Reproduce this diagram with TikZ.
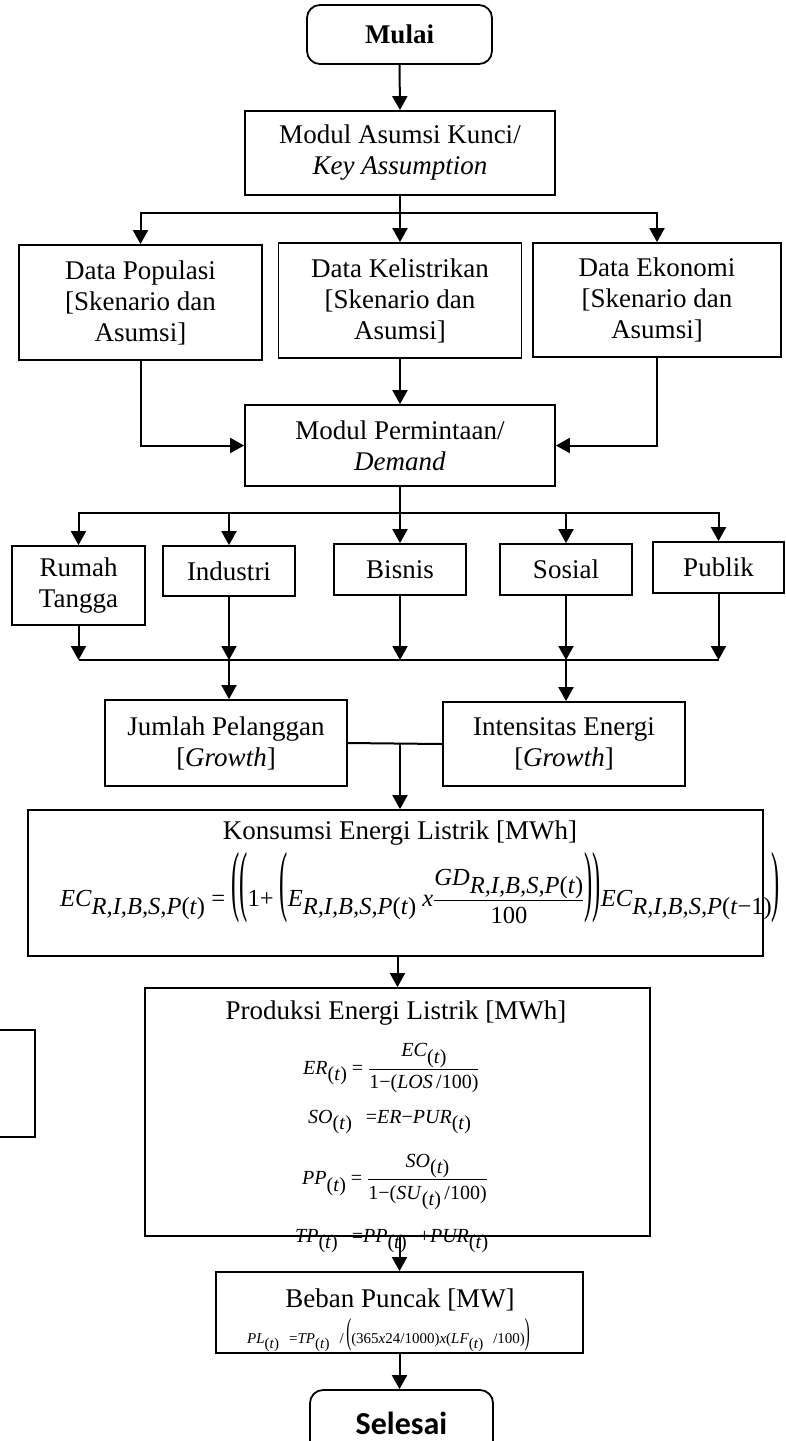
\documentclass[tikz,border=0pt]{standalone}
\usepackage{fontspec}
\usepackage{graphicx}
\setmainfont{Liberation Serif}
\newfontfamily\carlito{Carlito}
\usetikzlibrary{arrows.meta}
\newcommand\mi[1]{\textit{#1}}
\newcommand\lo[1]{\raisebox{-0.33em}{#1}}
\newcommand\bpL{\scalebox{1}[3.2]{(}}
\newcommand\bpR{\scalebox{1}[3.2]{)}}
\newcommand\spL{\scalebox{1}[2.4]{(}}
\newcommand\spR{\scalebox{1}[2.4]{)}}
\newcommand\subT{\lo{(\mi{t})}}
\newcommand\subR{\lo{\mi{R,I,B,S,P}(\mi{t})}}
\begin{document}
\begin{tikzpicture}[x=1pt,y=-1pt,
  box/.style={draw,line width=1.8pt,inner sep=0pt,align=center,font=\fontsize{27}{31}\selectfont},
  term/.style={box,rounded corners=13pt},
  arr/.style={line width=2pt,-{Triangle[width=15pt,length=14pt]}},
  ln/.style={line width=2pt},
  txt/.style={inner sep=0pt,font=\fontsize{27}{31}\selectfont},
  f20/.style={inner sep=0pt,font=\fontsize{20}{24}\selectfont},
  f15/.style={inner sep=0pt,font=\fontsize{15}{18}\selectfont}]
\useasboundingbox (0,0) rectangle (786,1441);
\clip (0,0) rectangle (786,1441);
% boxes
\node[term,minimum width=185,minimum height=59] (mul) at (399.5,34.5) {\bfseries Mulai};
\node[box,minimum width=310,minimum height=84] (asm) at (400,153) {Modul Asumsi Kunci/\\\textit{Key Assumption}};
\node[box,minimum width=243,minimum height=115] (pop) at (140.5,302.5) {Data Populasi\\{[}Skenario dan\\Asumsi{]}};
\node[box,minimum width=243,minimum height=115] (kel) at (400,300.5) {Data Kelistrikan\\{[}Skenario dan\\Asumsi{]}};
\node[box,minimum width=248,minimum height=114] (eko) at (657,300) {Data Ekonomi\\{[}Skenario dan\\Asumsi{]}};
\node[box,minimum width=310,minimum height=81] (per) at (400,445.5) {Modul Permintaan/\\\textit{Demand}};
\node[box,minimum width=133,minimum height=79] (rt) at (78.5,585.5) {Rumah\\Tangga};
\node[box,minimum width=132,minimum height=50] (ind) at (229,571) {Industri};
\node[box,minimum width=132,minimum height=51] (bis) at (400,569.5) {Bisnis};
\node[box,minimum width=132,minimum height=51] (sos) at (566,569.5) {Sosial};
\node[box,minimum width=131,minimum height=51] (pub) at (718.5,567.5) {Publik};
\node[box,minimum width=242,minimum height=86] (jum) at (226,743) {Jumlah Pelanggan\\{[}\textit{Growth}{]}};
\node[box,minimum width=242,minimum height=84] (int) at (564,744) {Intensitas Energi\\{[}\textit{Growth}{]}};
\node[box,minimum width=735,minimum height=146] (kon) at (395.5,883) {};
\node[box,minimum width=505,minimum height=248] (pro) at (397.5,1112) {};
\node[box,minimum width=367,minimum height=81] (ben) at (399.5,1312.5) {};
\node[term,minimum width=183,minimum height=80] (sel) at (401.5,1430) {};
\node[box,minimum width=100,minimum height=107] (part) at (-15,1083.5) {};
% texts
\node[txt] (kont) at (400,833) {Konsumsi Energi Listrik [MWh]};
\node[anchor=base west,inner sep=0pt,font=\fontsize{24.5}{28}\selectfont] (ecf) at (60,906)
 {\mi{EC}\subR\ = \bpL\bpL1+ \bpL\mi{E}\subR\ \mi{x}$\displaystyle\frac{\hbox{\mi{GD}\subR}}{\hbox{100}}$\bpR\bpR\mi{EC}\lo{\mi{R,I,B,S,P}(\mi{t}−1)}\bpR};
\node[txt] (prot) at (396,1013) {Produksi Energi Listrik [MWh]};
\node[f20,anchor=west] (er) at (303,1068) {\mi{ER}\subT\ = $\displaystyle\frac{\hbox{\mi{EC}\subT}}{\hbox{1−(\mi{LOS}\,/100)}}$};
\node[f20,anchor=west] (so) at (308,1122) {\mi{SO}\subT\hspace{14pt}=\mi{ER}−\mi{PUR}\subT};
\node[f20,anchor=west] (pp) at (302,1182) {\mi{PP}\subT\ = $\displaystyle\frac{\hbox{\mi{SO}\subT}}{\hbox{1−(\mi{SU}\subT\,/100)}}$};
\node[f20,anchor=west] (tp) at (295,1241) {\mi{TP}\subT\hspace{14pt}=\mi{PP}\subT\hspace{12pt}+\mi{PUR}\subT};
\node[txt] (bent) at (400,1300) {Beban Puncak [MW]};
\node[f15,anchor=west] (pl) at (247,1335) {\mi{PL}\subT\hspace{10pt}=\mi{TP}\subT\hspace{10pt}/\,\spL(365\mi{x}24/1000)\mi{x}(\mi{LF}\subT\hspace{10pt}/100)\spR};
\node[inner sep=0pt,font=\carlito\bfseries\fontsize{32}{36}\selectfont] (selt) at (401.5,1423) {Selesai};
% connectors
\draw[arr] (mul.south) -- (asm.north);
\coordinate (b1) at (400,213);
\draw[ln] (asm.south) -- (b1);
\draw[arr] (b1) -| (pop.north);
\draw[arr] (b1) -- (kel.north);
\draw[arr] (b1) -| (eko.north);
\draw[arr] (pop.south) |- (per.west);
\draw[arr] (kel.south) -- (per.north);
\draw[arr] (eko.south) |- (per.east);
\coordinate (b2) at (400,513);
\draw[ln] (per.south) -- (b2);
\draw[arr] (b2) -| (rt.north);
\draw[arr] (b2) -| (ind.north);
\draw[arr] (b2) -- (bis.north);
\draw[arr] (b2) -| (sos.north);
\draw[arr] (b2) -| (pub.north);
\coordinate (cl) at (78.5,660);
\coordinate (cr) at (718.5,660);
\draw[ln] (cl) -- (cr);
\draw[arr] (rt.south) -- (rt.south |- cl);
\draw[arr] (ind.south) -- (ind.south |- cl);
\draw[arr] (bis.south) -- (bis.south |- cl);
\draw[arr] (sos.south) -- (sos.south |- cl);
\draw[arr] (pub.south) -- (pub.south |- cl);
\draw[arr] (ind.south |- cl) -- (ind.south |- jum.north);
\draw[arr] (sos.south |- cl) -- (sos.south |- int.north);
\draw[ln] (jum.east) -- (int.west);
\coordinate (jm) at (400,743);
\draw[arr] (jm) -- (jm |- kon.north);
\draw[arr] (pro.north |- kon.south) -- (pro.north);
\draw[arr] (ben.north |- pro.south) -- (ben.north);
\draw[arr] (ben.south) -- (ben.south |- sel.north);
\end{tikzpicture}
\end{document}
